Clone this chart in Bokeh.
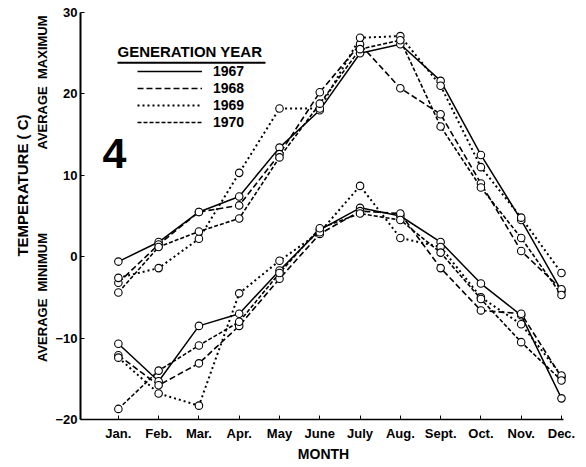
import math
from bokeh.plotting import figure
from bokeh.models import Range1d, FixedTicker, Label, Legend, LegendItem, BoxAnnotation, LinearAxis
from bokeh.embed import file_html
from bokeh.resources import INLINE

months = [1, 2, 3, 4, 5, 6, 7, 8, 9, 10, 11, 12]
month_labels = ["Jan.", "Feb.", "Mar.", "Apr.", "May", "June", "July", "Aug.", "Sept.", "Oct.", "Nov.", "Dec."]
years = ["1967", "1968", "1969", "1970"]
y_ticks = [-20, -10, 0, 10, 20, 30]

# Average maximum temperature (C)
max_1967 = [-0.6, 1.8, 5.5, 7.4, 13.4, 18.0, 25.0, 26.1, 21.6, 12.5, 4.5, -4.2]
max_1968 = [-3.2, 1.5, 5.5, 6.3, 12.6, 20.2, 26.1, 20.7, 17.5, 9.0, 0.7, -4.0]
max_1969 = [-2.6, -1.4, 2.2, 10.3, 18.2, 18.2, 26.9, 27.1, 21.0, 11.0, 4.8, -2.0]
max_1970 = [-4.4, 1.2, 3.1, 4.7, 12.2, 18.8, 25.5, 26.6, 16.0, 8.5, 2.3, -4.7]

# Average minimum temperature (C)
min_1967 = [-10.7, -15.3, -8.5, -7.0, -1.7, 3.3, 6.0, 5.0, 1.8, -3.3, -7.2, -17.4]
min_1968 = [-12.1, -15.8, -13.1, -8.5, -2.7, 2.8, 5.6, 5.3, -1.4, -6.6, -7.0, -14.8]
min_1969 = [-12.4, -16.8, -18.3, -4.5, -0.5, 3.0, 8.7, 2.3, 1.2, -5.0, -8.3, -14.6]
min_1970 = [-18.7, -14.0, -10.9, -8.0, -2.0, 3.5, 5.3, 4.5, 0.5, -5.2, -10.5, -15.2]

FONT = "Liberation Sans"
W, H = 586, 467
# layout: screen pixel positions of axis extremes
AX_LEFT, AX_RIGHT = 80, 563      # x pixels of x=0.06 and x=12.05
AX_TOP, AX_BOTTOM = 12, 419      # y pixels of y=30 and y=-20
XB = (0.06, 12.05)
YB = (-20, 30)
ppx = (AX_RIGHT - AX_LEFT) / (XB[1] - XB[0])
ppy = (AX_BOTTOM - AX_TOP) / (YB[1] - YB[0])

def sx(px):
    return XB[0] + (px - AX_LEFT) / ppx

def sy(py):
    return YB[1] - (py - AX_TOP) / ppy

p = figure(width=W, height=H, output_backend="svg", toolbar_location=None,
           x_range=Range1d(sx(0), sx(W)), y_range=Range1d(sy(H), sy(0)),
           x_axis_location=None, y_axis_location=None,
           min_border_left=0, min_border_top=0, min_border_right=0, min_border_bottom=0)
p.outline_line_color = None
p.grid.visible = False
p.background_fill_color = "white"
p.border_fill_color = "white"

styles = {
    "1967": dict(line_dash="solid", line_width=1.5),
    "1968": dict(line_dash="6 3", line_width=1.6),
    "1969": dict(line_dash="2 3", line_width=2.0),
    "1970": dict(line_dash="4 2", line_width=1.6),
}

series_max = {"1967": max_1967, "1968": max_1968, "1969": max_1969, "1970": max_1970}
series_min = {"1967": min_1967, "1968": min_1968, "1969": min_1969, "1970": min_1970}

legend_renderers = {}
for yr in years:
    r = p.line(months, series_max[yr], line_color="black", **styles[yr])
    p.line(months, series_min[yr], line_color="black", **styles[yr])
    legend_renderers[yr] = r
for yr in years:
    p.scatter(months, series_max[yr], size=7.5, fill_color="white", line_color="black", line_width=1.1)
    p.scatter(months, series_min[yr], size=7.5, fill_color="white", line_color="black", line_width=1.1)

# axes placed at fixed locations inside the full-size frame
xaxis = LinearAxis(fixed_location=YB[0], bounds=XB, ticker=FixedTicker(ticks=months),
                   major_label_overrides={m: lab for m, lab in zip(months, month_labels)})
yaxis = LinearAxis(fixed_location=XB[0], bounds=YB, ticker=FixedTicker(ticks=y_ticks))
for ax in (xaxis, yaxis):
    ax.major_tick_in = 4
    ax.major_tick_out = 0
    ax.minor_tick_line_color = None
    ax.axis_line_color = "black"
    ax.major_tick_line_color = "black"
    ax.major_label_text_font = FONT
    ax.major_label_text_font_style = "bold"
    ax.major_label_text_color = "black"
    ax.major_label_text_font_size = "13px"
yaxis.axis_line_width = 2
xaxis.axis_line_width = 1.6
yaxis.major_label_standoff = 3
xaxis.major_label_standoff = 6
p.add_layout(xaxis, "below")
p.add_layout(yaxis, "left")

def add_label(text, x, y, size="13px", angle=0.0, align="center", font=FONT):
    p.add_layout(Label(x=x, y=y, text=text, angle=angle, text_align=align,
                       text_baseline="middle", text_font=font, text_font_style="bold",
                       text_font_size=size, text_color="black"))

NB = "\u00a0"
add_label("TEMPERATURE" + NB + "(" + NB + "C)", sx(22), sy(185), size="15px", angle=math.pi / 2)
add_label("AVERAGE" + NB * 2 + "MAXIMUM", sx(42), sy(82), angle=math.pi / 2)
add_label("AVERAGE" + NB * 2 + "MINIMUM", sx(42), sy(297), angle=math.pi / 2)
add_label("MONTH", sx(323), sy(453), size="14px")
add_label("4", sx(114), sy(153), size="43px")
add_label("GENERATION YEAR", sx(117), sy(51), size="15px", align="left")
p.add_layout(BoxAnnotation(left=sx(117), right=sx(265), top=sy(61.2), bottom=sy(63.2),
                           fill_color="black", fill_alpha=1, line_color=None))

legend = Legend(items=[LegendItem(label=yr, renderers=[legend_renderers[yr]]) for yr in years],
                location=(137, 337), label_text_font=FONT, label_text_font_style="bold",
                label_text_font_size="14px", label_text_color="black",
                glyph_width=65, glyph_height=14, label_height=14,
                spacing=1, padding=0, margin=0, border_line_color=None,
                background_fill_alpha=0, label_standoff=11)
p.add_layout(legend)

open("out.html", "w").write(file_html(p, INLINE))
